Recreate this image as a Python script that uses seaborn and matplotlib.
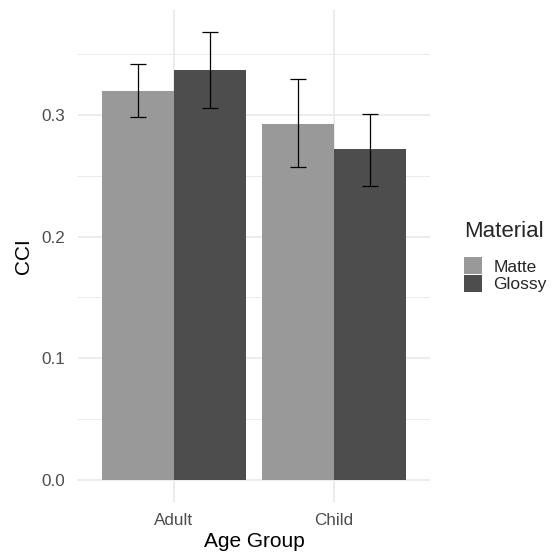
import numpy as np
import pandas as pd
import seaborn as sns
import matplotlib.pyplot as plt
from matplotlib.ticker import MultipleLocator

# Values
age_groups = ["Adult", "Adult", "Child", "Child"]
materials = ["Matte", "Glossy", "Matte", "Glossy"]
cci_mean = [0.320, 0.337, 0.293, 0.272]
cci_low = [0.298, 0.306, 0.257, 0.242]
cci_high = [0.342, 0.368, 0.330, 0.301]

df = pd.DataFrame({
    "Age Group": age_groups,
    "Material": materials,
    "CCI": cci_mean,
    "low": cci_low,
    "high": cci_high,
})

sns.set_style("white")
plt.rcParams["font.family"] = ["Liberation Sans", "DejaVu Sans"]

fig = plt.figure(figsize=(5.54, 5.56), dpi=100)
ax = fig.add_axes([78 / 554, 1 - 502 / 556, (430 - 78) / 554, (502 - 10) / 556])

sns.barplot(
    data=df,
    x="Age Group",
    y="CCI",
    hue="Material",
    hue_order=["Matte", "Glossy"],
    palette={"Matte": "#999999", "Glossy": "#4D4D4D"},
    width=0.9,
    errorbar=None,
    saturation=1,
    linewidth=0,
    ax=ax,
)

# Error bars at the centre of each bar
for patch in ax.patches:
    h = patch.get_height()
    if h == 0 or np.isnan(h):
        continue
    xc = patch.get_x() + patch.get_width() / 2
    row = df[np.isclose(df["CCI"], h)].iloc[0]
    ax.errorbar(
        xc, h,
        yerr=[[h - row["low"]], [row["high"] - h]],
        fmt="none",
        ecolor="black",
        elinewidth=0.9,
        capsize=6,
        capthick=0.9,
        zorder=5,
    )

ymax = max(cci_high)
ax.set_ylim(-0.05 * ymax, ymax * 1.05)
ax.set_xlim(-0.6, 1.6)

ax.yaxis.set_minor_locator(MultipleLocator(0.05))
ax.set_yticks([0.0, 0.1, 0.2, 0.3])
ax.set_yticklabels(["0.0", "0.1", "0.2", "0.3"])
ax.grid(True, which="major", color="#EBEBEB", linewidth=1.3)
ax.grid(True, which="minor", axis="y", color="#EBEBEB", linewidth=0.7)
ax.set_axisbelow(True)
for spine in ax.spines.values():
    spine.set_visible(False)

ax.tick_params(axis="both", which="both", length=0, labelsize=12.3,
               labelcolor="#4D4D4D")
ax.tick_params(axis="y", pad=9)
ax.tick_params(axis="x", pad=8)
ax.set_xlabel("Age Group", fontsize=15, color="black", labelpad=3)
ax.set_ylabel("CCI", fontsize=15, color="black", labelpad=6)

handles, labels = ax.get_legend_handles_labels()
ax.get_legend().remove()
leg = fig.legend(
    handles, labels,
    title="Material",
    loc="upper left",
    bbox_to_anchor=(457 / 554, 1 - 214 / 556),
    frameon=False,
    fontsize=12.5,
    title_fontsize=16,
    handlelength=1.05,
    handleheight=1.15,
    handletextpad=0.65,
    labelspacing=0.0,
    borderaxespad=0,
)
leg._legend_box.align = "left"
leg._legend_box.sep = 11

fig.savefig("out.png", dpi=100)
